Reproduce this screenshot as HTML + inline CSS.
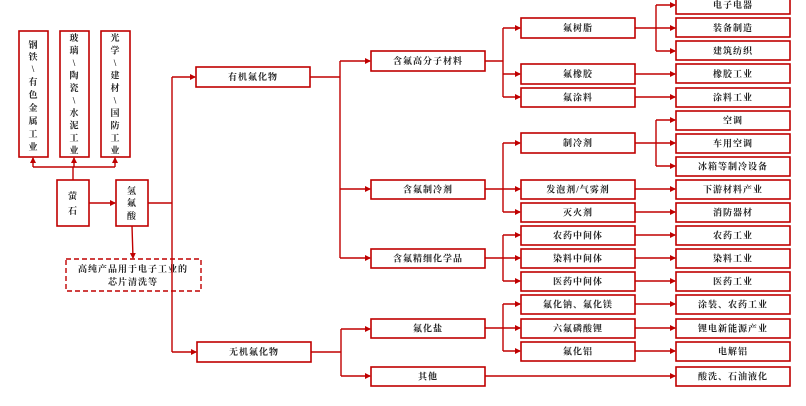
<!DOCTYPE html>
<html><head><meta charset="utf-8"><style>
html,body{margin:0;padding:0;background:#fff;}
svg{display:block;}
text{font-family:"Liberation Serif","Noto Serif CJK SC","Noto Sans CJK SC",serif;font-size:9px;font-weight:bold;fill:#222;text-anchor:middle;dominant-baseline:central;letter-spacing:1px;}
.b{fill:#fff;stroke:#c00000;stroke-width:1.6;}
.l{fill:none;stroke:#c00000;stroke-width:1.4;}
</style></head><body>
<svg width="806" height="406" viewBox="0 0 806 406" xmlns="http://www.w3.org/2000/svg">
<defs><marker id="a" markerWidth="6" markerHeight="6" refX="5" refY="3" orient="auto" markerUnits="userSpaceOnUse"><path d="M0,0 L6,3 L0,6 z" fill="#c00000"/></marker></defs>

<rect class="b" x="19" y="31" width="29" height="126"/>
<rect class="b" x="60" y="31" width="29" height="126"/>
<rect class="b" x="101" y="31" width="29" height="126"/>
<g>
<text x="33.5" y="45">钢</text><text x="33.5" y="57">铁</text><text x="33.5" y="69">\</text><text x="33.5" y="82">有</text><text x="33.5" y="95">色</text><text x="33.5" y="108">金</text><text x="33.5" y="121">属</text><text x="33.5" y="134">工</text><text x="33.5" y="147">业</text>
<text x="74.5" y="38">玻</text><text x="74.5" y="50.5">璃</text><text x="74.5" y="63">\</text><text x="74.5" y="75.5">陶</text><text x="74.5" y="88">瓷</text><text x="74.5" y="100.5">\</text><text x="74.5" y="113">水</text><text x="74.5" y="125.5">泥</text><text x="74.5" y="138">工</text><text x="74.5" y="150.5">业</text>
<text x="115.5" y="38">光</text><text x="115.5" y="50.5">学</text><text x="115.5" y="63">\</text><text x="115.5" y="75.5">建</text><text x="115.5" y="88">材</text><text x="115.5" y="100.5">\</text><text x="115.5" y="113">国</text><text x="115.5" y="125.5">防</text><text x="115.5" y="138">工</text><text x="115.5" y="150.5">业</text>
</g>

<polyline class="l" points="73,180 73,167"/>
<polyline class="l" points="33,167 115,167"/>
<line class="l" x1="33" y1="167" x2="33" y2="158" marker-end="url(#a)"/>
<line class="l" x1="74" y1="167" x2="74" y2="158" marker-end="url(#a)"/>
<line class="l" x1="115" y1="167" x2="115" y2="158" marker-end="url(#a)"/>

<rect class="b" x="57" y="180" width="32" height="46"/>
<text x="73" y="196">萤</text><text x="73" y="211">石</text>
<rect class="b" x="116" y="180" width="32" height="46"/>
<text x="132" y="191">氢</text><text x="132" y="203">氟</text><text x="132" y="216">酸</text>
<line class="l" x1="89" y1="203" x2="115" y2="203" marker-end="url(#a)"/>
<line class="l" x1="132" y1="226" x2="133" y2="258" marker-end="url(#a)"/>
<rect x="66" y="259" width="135" height="32" fill="#fff" stroke="#c00000" stroke-width="1.4" stroke-dasharray="5,3"/>
<text x="133" y="269">高纯产品用于电子工业的</text>
<text x="133" y="282">芯片清洗等</text>

<polyline class="l" points="148,203 172,203"/>
<polyline class="l" points="172,77 172,352"/>
<line class="l" x1="172" y1="77" x2="195" y2="77" marker-end="url(#a)"/>
<line class="l" x1="172" y1="352" x2="196" y2="352" marker-end="url(#a)"/>
<rect class="b" x="196" y="67" width="114" height="20"/><text x="253" y="77">有机氟化物</text>
<rect class="b" x="197" y="342" width="114" height="20"/><text x="254" y="352">无机氟化物</text>

<polyline class="l" points="310,77 340,77"/>
<polyline class="l" points="340,61 340,258"/>
<line class="l" x1="340" y1="61" x2="370" y2="61" marker-end="url(#a)"/>
<line class="l" x1="340" y1="189" x2="370" y2="189" marker-end="url(#a)"/>
<line class="l" x1="340" y1="258" x2="370" y2="258" marker-end="url(#a)"/>
<polyline class="l" points="311,352 341,352"/>
<polyline class="l" points="341,329 341,376"/>
<line class="l" x1="341" y1="329" x2="370" y2="329" marker-end="url(#a)"/>
<line class="l" x1="341" y1="376" x2="370" y2="376" marker-end="url(#a)"/>

<rect class="b" x="371" y="51" width="114" height="20"/><text x="428" y="61">含氟高分子材料</text>
<rect class="b" x="371" y="180" width="114" height="19"/><text x="428" y="189.5">含氟制冷剂</text>
<rect class="b" x="371" y="249" width="114" height="19"/><text x="428" y="258.5">含氟精细化学品</text>
<rect class="b" x="371" y="319" width="114" height="19"/><text x="428" y="328.5">氟化盐</text>
<rect class="b" x="371" y="367" width="114" height="19"/><text x="428" y="376.5">其他</text>

<polyline class="l" points="485,61 503,61"/>
<polyline class="l" points="503,28 503,97"/>
<line class="l" x1="503" y1="28" x2="520" y2="28" marker-end="url(#a)"/>
<line class="l" x1="503" y1="74" x2="520" y2="74" marker-end="url(#a)"/>
<line class="l" x1="503" y1="97" x2="520" y2="97" marker-end="url(#a)"/>

<polyline class="l" points="485,189 503,189"/>
<polyline class="l" points="503,143 503,212"/>
<line class="l" x1="503" y1="143" x2="520" y2="143" marker-end="url(#a)"/>
<line class="l" x1="503" y1="189" x2="520" y2="189" marker-end="url(#a)"/>
<line class="l" x1="503" y1="212" x2="520" y2="212" marker-end="url(#a)"/>

<polyline class="l" points="485,258 503,258"/>
<polyline class="l" points="503,235 503,281"/>
<line class="l" x1="503" y1="235" x2="520" y2="235" marker-end="url(#a)"/>
<line class="l" x1="503" y1="258" x2="520" y2="258" marker-end="url(#a)"/>
<line class="l" x1="503" y1="281" x2="520" y2="281" marker-end="url(#a)"/>

<polyline class="l" points="485,328 503,328"/>
<polyline class="l" points="503,304 503,351"/>
<line class="l" x1="503" y1="304" x2="520" y2="304" marker-end="url(#a)"/>
<line class="l" x1="503" y1="328" x2="520" y2="328" marker-end="url(#a)"/>
<line class="l" x1="503" y1="351" x2="520" y2="351" marker-end="url(#a)"/>

<line class="l" x1="485" y1="376" x2="675" y2="376" marker-end="url(#a)"/>

<g>
<rect class="b" x="521" y="18" width="114" height="20"/><text x="578" y="28">氟树脂</text>
<rect class="b" x="521" y="64" width="114" height="20"/><text x="578" y="74">氟橡胶</text>
<rect class="b" x="521" y="88" width="114" height="19"/><text x="578" y="97.5">氟涂料</text>
<rect class="b" x="521" y="133" width="114" height="20"/><text x="578" y="143">制冷剂</text>
<rect class="b" x="521" y="180" width="114" height="19"/><text x="578" y="189.5">发泡剂/气雾剂</text>
<rect class="b" x="521" y="203" width="114" height="19"/><text x="578" y="212.5">灭火剂</text>
<rect class="b" x="521" y="226" width="114" height="19"/><text x="578" y="235.5">农药中间体</text>
<rect class="b" x="521" y="249" width="114" height="19"/><text x="578" y="258.5">染料中间体</text>
<rect class="b" x="521" y="272" width="114" height="19"/><text x="578" y="281.5">医药中间体</text>
<rect class="b" x="521" y="295" width="114" height="19"/><text x="578" y="304.5">氟化钠、氟化镁</text>
<rect class="b" x="521" y="319" width="114" height="19"/><text x="578" y="328.5">六氟磷酸锂</text>
<rect class="b" x="521" y="342" width="114" height="19"/><text x="578" y="351.5">氟化铝</text>
</g>

<polyline class="l" points="635,28 656,28"/>
<polyline class="l" points="656,5 656,51"/>
<line class="l" x1="656" y1="5" x2="675" y2="5" marker-end="url(#a)"/>
<line class="l" x1="656" y1="28" x2="675" y2="28" marker-end="url(#a)"/>
<line class="l" x1="656" y1="51" x2="675" y2="51" marker-end="url(#a)"/>
<line class="l" x1="635" y1="74" x2="675" y2="74" marker-end="url(#a)"/>
<line class="l" x1="635" y1="97" x2="675" y2="97" marker-end="url(#a)"/>
<polyline class="l" points="635,143 656,143"/>
<polyline class="l" points="656,120 656,166"/>
<line class="l" x1="656" y1="120" x2="675" y2="120" marker-end="url(#a)"/>
<line class="l" x1="656" y1="143" x2="675" y2="143" marker-end="url(#a)"/>
<line class="l" x1="656" y1="166" x2="675" y2="166" marker-end="url(#a)"/>
<line class="l" x1="635" y1="189" x2="675" y2="189" marker-end="url(#a)"/>
<line class="l" x1="635" y1="212" x2="675" y2="212" marker-end="url(#a)"/>
<line class="l" x1="635" y1="235" x2="675" y2="235" marker-end="url(#a)"/>
<line class="l" x1="635" y1="258" x2="675" y2="258" marker-end="url(#a)"/>
<line class="l" x1="635" y1="281" x2="675" y2="281" marker-end="url(#a)"/>
<line class="l" x1="635" y1="304" x2="675" y2="304" marker-end="url(#a)"/>
<line class="l" x1="635" y1="328" x2="675" y2="328" marker-end="url(#a)"/>
<line class="l" x1="635" y1="351" x2="675" y2="351" marker-end="url(#a)"/>

<g>
<rect class="b" x="676" y="-5" width="114" height="19"/><text x="733" y="5">电子电器</text>
<rect class="b" x="676" y="18" width="114" height="19"/><text x="733" y="28">装备制造</text>
<rect class="b" x="676" y="41" width="114" height="19"/><text x="733" y="51">建筑纺织</text>
<rect class="b" x="676" y="64" width="114" height="19"/><text x="733" y="74">橡胶工业</text>
<rect class="b" x="676" y="88" width="114" height="19"/><text x="733" y="97.5">涂料工业</text>
<rect class="b" x="676" y="111" width="114" height="19"/><text x="733" y="120.5">空调</text>
<rect class="b" x="676" y="134" width="114" height="19"/><text x="733" y="143.5">车用空调</text>
<rect class="b" x="676" y="157" width="114" height="19"/><text x="733" y="166.5">冰箱等制冷设备</text>
<rect class="b" x="676" y="180" width="114" height="19"/><text x="733" y="189.5">下游材料产业</text>
<rect class="b" x="676" y="203" width="114" height="19"/><text x="733" y="212.5">消防器材</text>
<rect class="b" x="676" y="226" width="114" height="19"/><text x="733" y="235.5">农药工业</text>
<rect class="b" x="676" y="249" width="114" height="19"/><text x="733" y="258.5">染料工业</text>
<rect class="b" x="676" y="272" width="114" height="19"/><text x="733" y="281.5">医药工业</text>
<rect class="b" x="676" y="295" width="114" height="19"/><text x="733" y="304.5">涂装、农药工业</text>
<rect class="b" x="676" y="319" width="114" height="19"/><text x="733" y="328.5">锂电新能源产业</text>
<rect class="b" x="676" y="342" width="114" height="19"/><text x="733" y="351.5">电解铝</text>
<rect class="b" x="676" y="367" width="114" height="19"/><text x="733" y="376.5">酸洗、石油液化</text>
</g>
</svg>
</body></html>
